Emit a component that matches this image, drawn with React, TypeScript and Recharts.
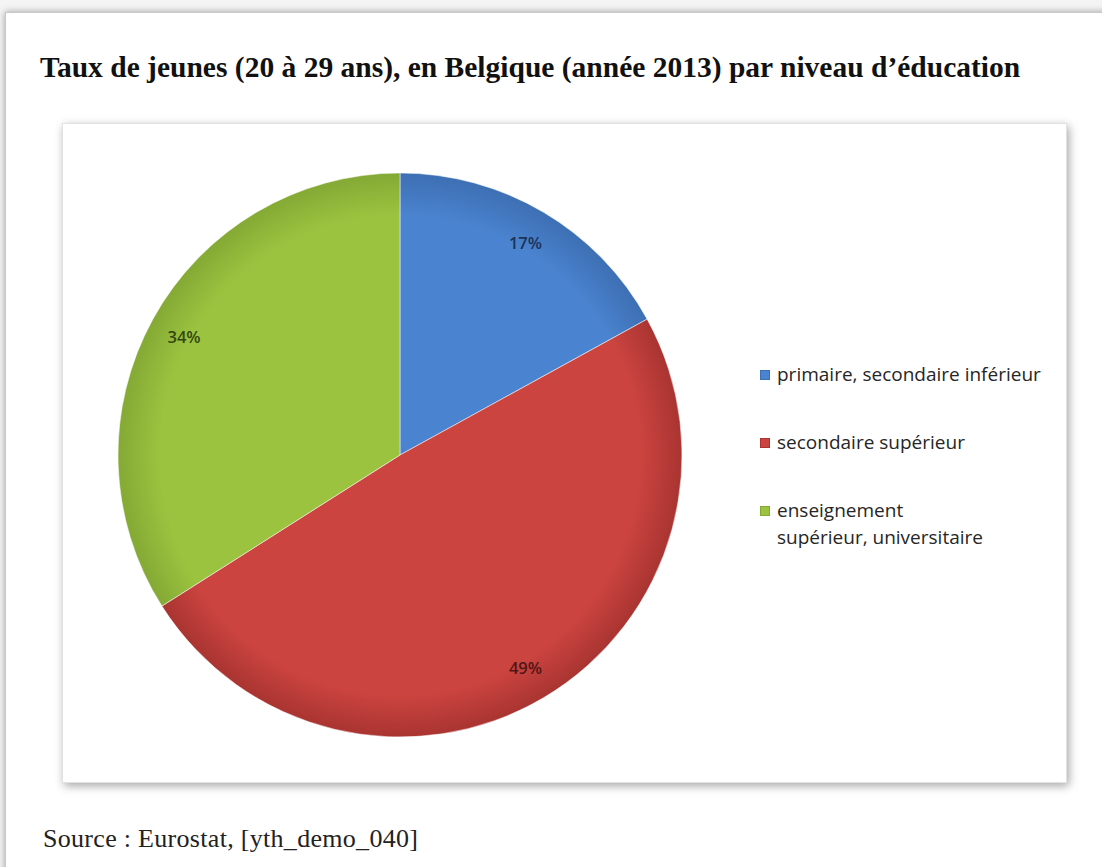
import { Legend, Pie, PieChart, Cell } from "recharts";

const categories = [
  "primaire, secondaire inférieur",
  "secondaire supérieur",
  "enseignement supérieur, universitaire",
];
const shares = [17, 49, 34];
const sliceColors = ["#4a83cf", "#cc4440", "#9cc33f"];
const edgeColors = ["#3d6fb3", "#a93431", "#84a935"];
const labelColors = ["#1c3356", "#521615", "#33470f"];

const title = "Taux de jeunes (20 à 29 ans), en Belgique (année 2013) par niveau d’éducation";
const source = "Source : Eurostat, [yth_demo_040]";

const data = categories.map((name, i) => ({ name, value: shares[i] }));

const RAD = Math.PI / 180;

function SliceLabel(props: any) {
  const { cx, cy, midAngle, outerRadius, index, value } = props;
  const r = outerRadius * 0.874;
  const x = cx + r * Math.cos(-midAngle * RAD);
  const y = cy + r * Math.sin(-midAngle * RAD);
  return (
    <text
      x={x}
      y={y}
      fill={labelColors[index]}
      textAnchor="middle"
      dominantBaseline="central"
      fontFamily="'Open Sans', sans-serif"
      fontSize={16.5}
      fontWeight={600}
    >
      {`${value}%`}
    </text>
  );
}

function LegendBox() {
  return (
    <div style={{ fontFamily: "'Open Sans', sans-serif", fontSize: 19, color: "#262626", width: 320 }}>
      {categories.map((c, i) => (
        <div key={c} style={{ display: "flex", alignItems: "flex-start", marginBottom: i < 2 ? 41 : 0, lineHeight: "27px" }}>
          <span
            style={{
              width: 10,
              height: 10,
              marginTop: 9,
              marginRight: 7,
              flex: "none",
              background: sliceColors[i],
              border: `1px solid ${edgeColors[i]}`,
              boxSizing: "border-box",
            }}
          />
          <span style={{ width: i === 2 ? 217 : 300 }}>{c}</span>
        </div>
      ))}
    </div>
  );
}

export default function App() {
  return (
    <div style={{ position: "absolute", left: 0, top: 0, width: 1102, height: 867, overflow: "hidden", background: "#f4f4f4" }}>
      <div
        style={{
          position: "absolute",
          left: 5,
          top: 12,
          width: 1120,
          height: 900,
          background: "#fff",
          border: "1px solid #c8c8c8",
          boxShadow: "0 0 7px rgba(0,0,0,0.35)",
        }}
      />
      <div
        style={{
          position: "absolute",
          left: 40,
          top: 50,
          fontFamily: "'Liberation Serif', serif",
          fontWeight: 700,
          fontSize: 29.5,
          lineHeight: "34px",
          color: "#111",
          whiteSpace: "nowrap",
        }}
      >
        {title}
      </div>
      <div
        style={{
          position: "absolute",
          left: 62,
          top: 123,
          width: 1005,
          height: 660,
          background: "#fff",
          border: "1px solid #e2e2e2",
          boxSizing: "border-box",
          boxShadow: "2px 3px 9px rgba(0,0,0,0.35)",
        }}
      >
        <PieChart width={1003} height={658} margin={{ top: 0, right: 0, bottom: 0, left: 0 }}>
          <defs>
            {sliceColors.map((c, i) => (
              <radialGradient key={c} id={`g${i}`} cx={337} cy={331} r={282} gradientUnits="userSpaceOnUse">
                <stop offset="0%" stopColor={c} />
                <stop offset="85%" stopColor={c} />
                <stop offset="100%" stopColor={edgeColors[i]} />
              </radialGradient>
            ))}
          </defs>
          <Pie
            data={data}
            dataKey="value"
            nameKey="name"
            cx={337}
            cy={331}
            outerRadius={282}
            startAngle={90}
            endAngle={-270}
            label={SliceLabel}
            labelLine={false}
            isAnimationActive={false}
            stroke="#ffffff"
            strokeWidth={0.5}
          >
            {data.map((d, i) => (
              <Cell key={d.name} fill={`url(#g${i})`} />
            ))}
          </Pie>
          <Legend
            content={() => <LegendBox />}
            wrapperStyle={{ position: "absolute", left: 697, top: 237, width: 320 }}
          />
        </PieChart>
      </div>
      <div
        style={{
          position: "absolute",
          left: 43,
          top: 824,
          fontFamily: "'Liberation Serif', serif",
          fontSize: 26,
          letterSpacing: 0.3,
          lineHeight: "30px",
          color: "#222",
          whiteSpace: "nowrap",
        }}
      >
        {source}
      </div>
    </div>
  );
}
